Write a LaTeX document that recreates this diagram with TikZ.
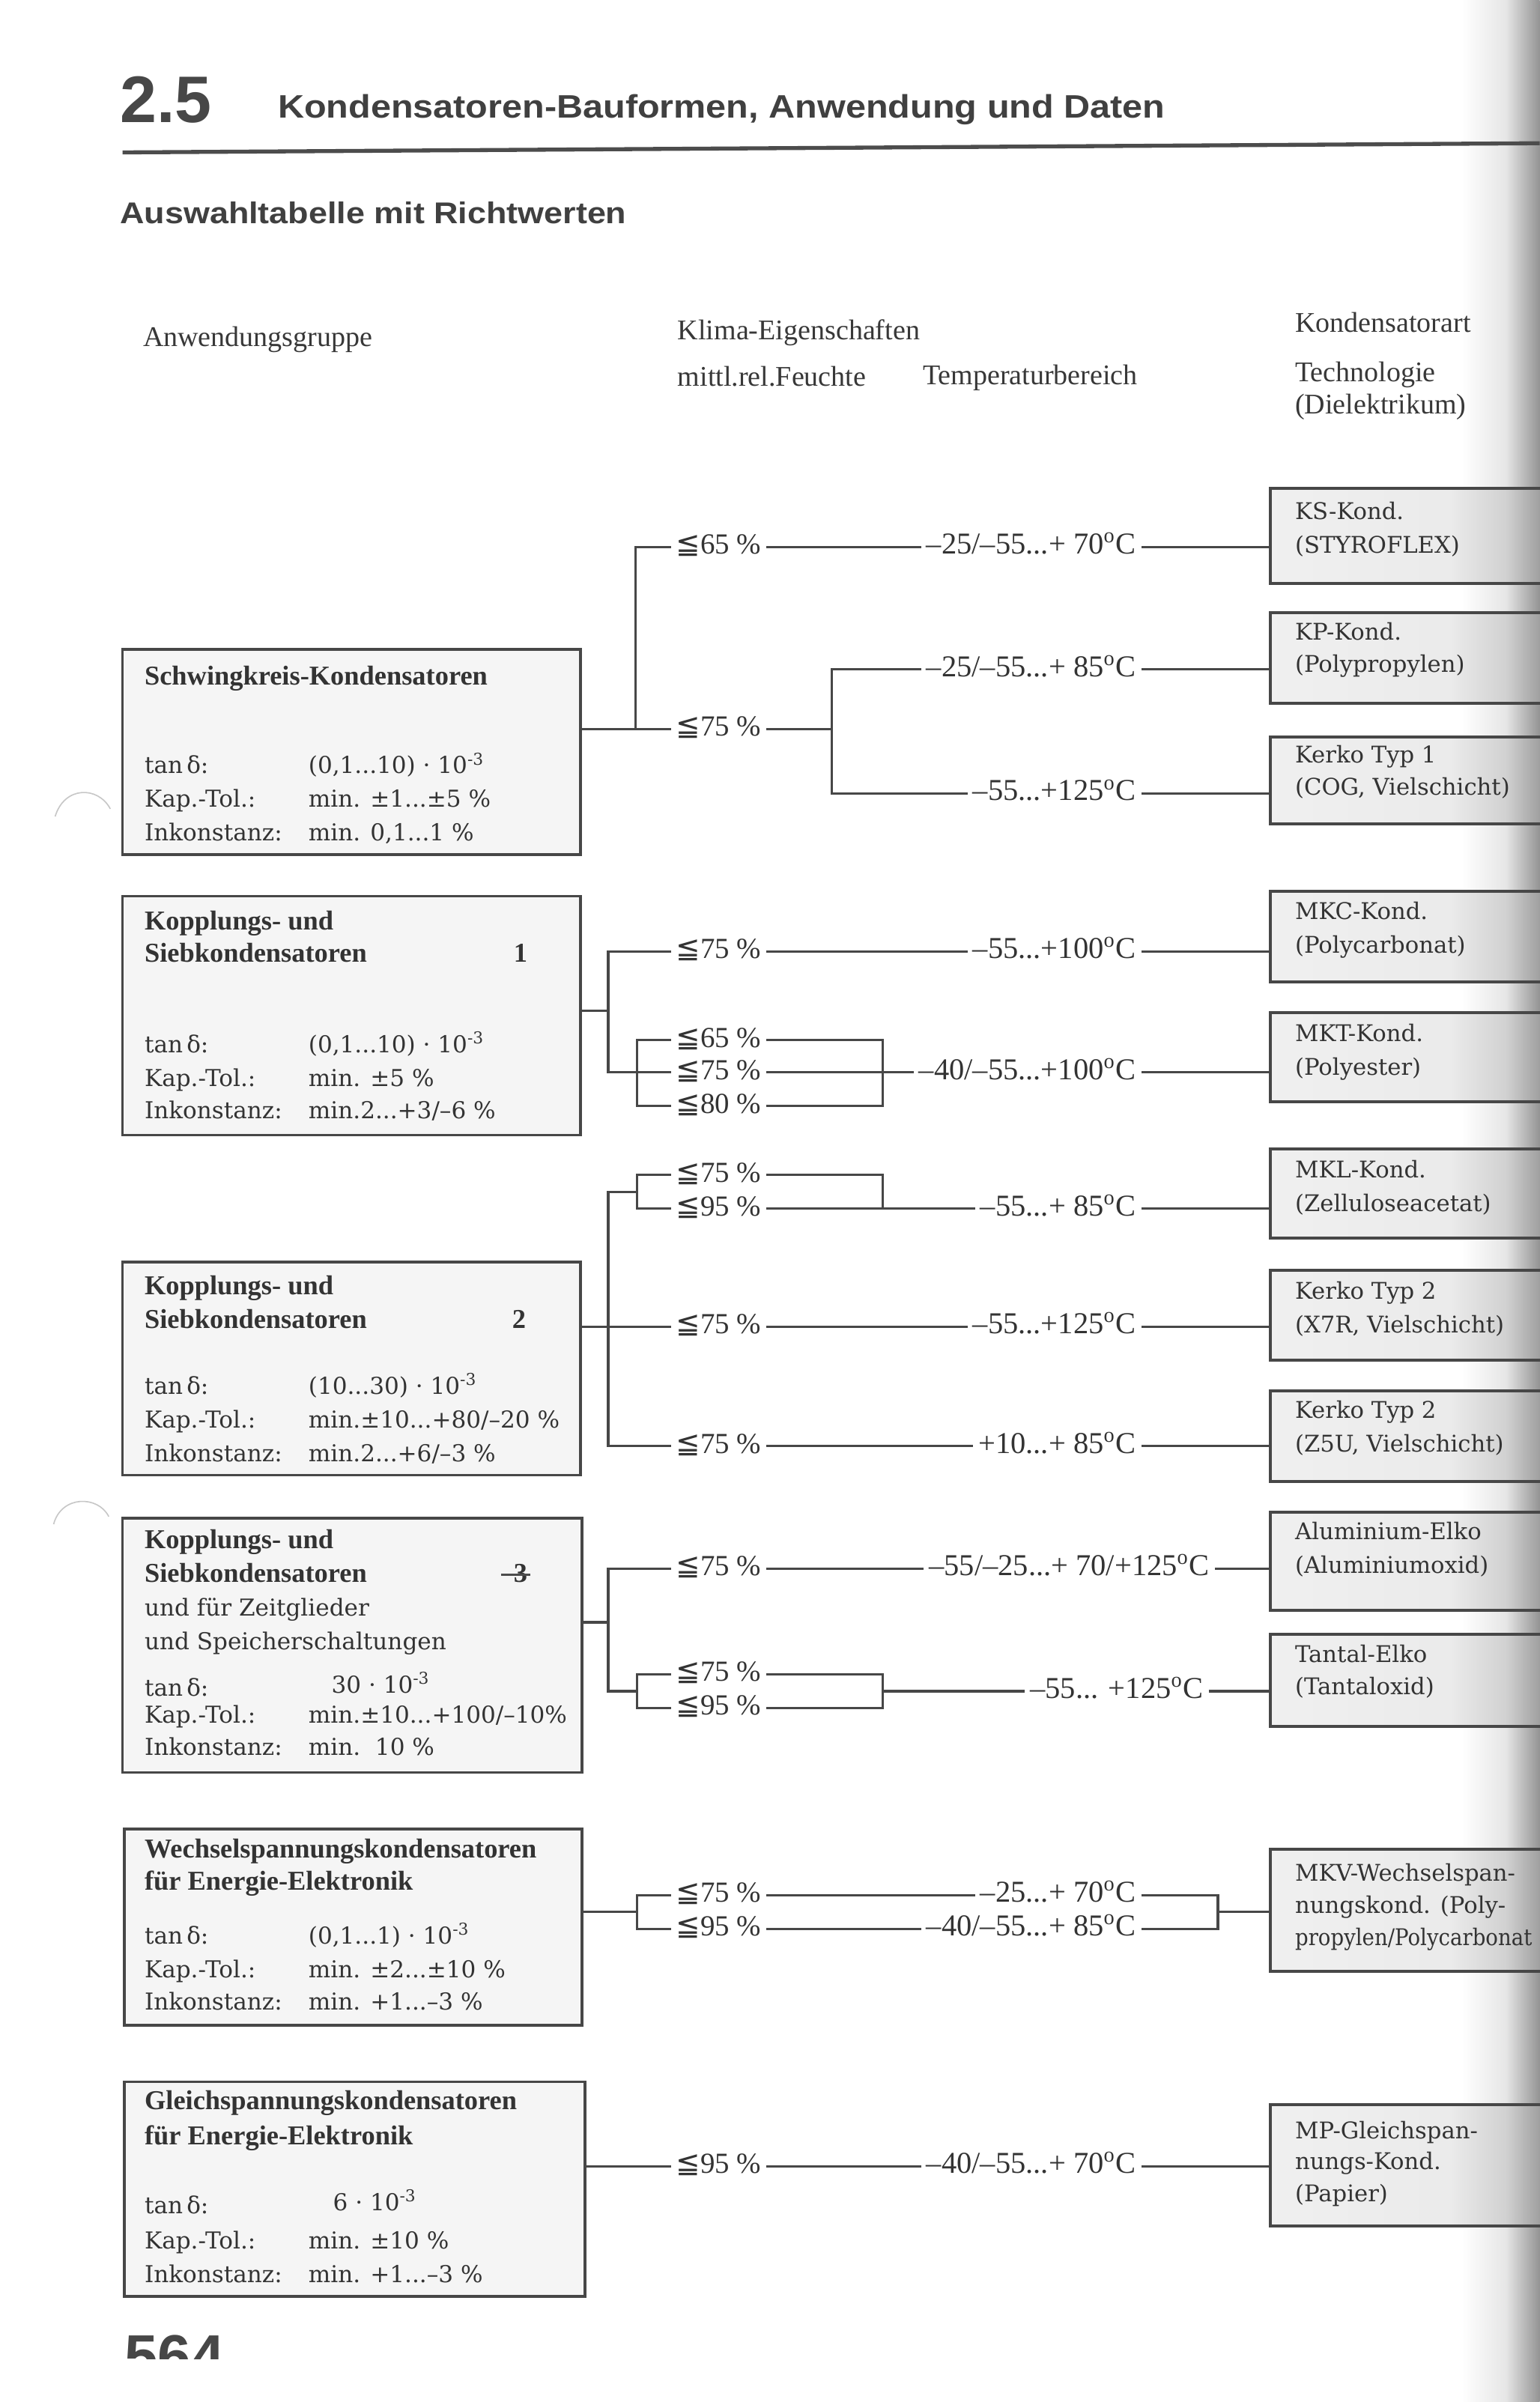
\documentclass[tikz,border=0pt]{standalone}
\usepackage{fontspec}
\setmainfont{Liberation Serif}
\newfontfamily\dvs{DejaVu Serif}
\newfontfamily\dvsans{DejaVu Sans}
\newfontfamily\hsans[FakeStretch=1.12]{Liberation Sans}
\newfontfamily\hsn{Liberation Sans}
\usetikzlibrary{fit}
\pgfdeclarehorizontalshading{edgeshade}{100bp}{color(0bp)=(white); color(25bp)=(white); color(45bp)=(white); color(62bp)=(black!10); color(75bp)=(black!42); color(100bp)=(black!42)}
\pgfdeclarehorizontalshading{rboxshade}{100bp}{color(0bp)=(black!6); color(25bp)=(black!6); color(58bp)=(black!8); color(68bp)=(black!18); color(75bp)=(black!40); color(100bp)=(black!40)}
\newcommand\myleq{{\dvsans ≦}}
\newcommand\dg{\textsuperscript{o}C}
\tikzset{
  lbox/.style={draw=black!72, line width=0.9pt, fill=black!4, inner sep=0pt},
  rbox/.style={draw=black!72, line width=1pt, shade, shading=rboxshade, inner sep=0pt},
  conn/.style={draw=black!72, line width=0.75pt},
  ltitle/.style={anchor=base west, inner sep=0pt, text=black!80, font=\fontsize{8.9}{10}\selectfont\bfseries},
  lbody/.style={anchor=base west, inner sep=0pt, text=black!80, font=\dvs\fontsize{7.6}{9}\selectfont},
  rtext/.style={anchor=base west, inner sep=0pt, text=black!80, font=\dvs\fontsize{7.5}{9}\selectfont},
  hum/.style={anchor=west, inner sep=1.5pt, text height=7pt, text depth=2.4pt, text=black!80, font=\fontsize{9.5}{11}\selectfont},
  temp/.style={anchor=east, inner sep=1.5pt, text height=7pt, text depth=2.4pt, text=black!80, font=\fontsize{9.9}{11}\selectfont},
  colhead/.style={anchor=base west, inner sep=0pt, text=black!78, font=\fontsize{9.3}{11}\selectfont},
}
\begin{document}
\begin{tikzpicture}[x=0.5pt,y=-0.5pt]
\useasboundingbox (0,0) rectangle (1005,1568);
\fill[white] (0,0) rectangle (1005,1568);
\shade[shading=edgeshade] (920,0) rectangle (1005,1568);

% header
\node[anchor=base west, inner sep=0pt, text=black!72, font=\hsn\bfseries\fontsize{21.5}{24}\selectfont] (h25) at (78,80) {2.5};
\node[anchor=base west, inner sep=0pt, text=black!75, font=\hsans\bfseries\fontsize{10.6}{12}\selectfont] (h1) at (181,77) {Kondensatoren-Bauformen, Anwendung und Daten};
\draw[black!70, line width=1.3pt] (80,99.5) -- (1005,93.5);
\node[anchor=base west, inner sep=0pt, text=black!75, font=\hsans\bfseries\fontsize{9.8}{12}\selectfont] (h2) at (78,146) {Auswahltabelle mit Richtwerten};

% column heads
\node[colhead] (c1) at (93,226) {Anwendungsgruppe};
\node[colhead] (c2) at (442,221.5) {Klima-Eigenschaften};
\node[colhead] (c3) at (442,252) {mittl.rel.Feuchte};
\node[colhead] (c4) at (602,251) {Temperaturbereich};
\node[colhead] (c5) at (845,217) {Kondensatorart};
\node[colhead] (c6) at (845,249) {Technologie};
\node[colhead] (c7) at (845,270) {(Dielektrikum)};

% hole punch marks
\draw[black!22, line width=0.4pt] (36,533) .. controls (42,513) and (64,513) .. (72,528);
\draw[black!22, line width=0.4pt] (35,995) .. controls (40,976) and (64,976) .. (71,990);

% right boxes
\node[rbox, fit={(829,319) (1008,381)}] (r1) {};
\node[rbox, fit={(829,400) (1008,459)}] (r2) {};
\node[rbox, fit={(829,481) (1008,538)}] (r3) {};
\node[rbox, fit={(829,582) (1008,641)}] (r4) {};
\node[rbox, fit={(829,661) (1008,719)}] (r5) {};
\node[rbox, fit={(829,750) (1008,808)}] (r6) {};
\node[rbox, fit={(829,829) (1008,888)}] (r7) {};
\node[rbox, fit={(829,908) (1008,967)}] (r8) {};
\node[rbox, fit={(829,987) (1008,1051)}] (r9) {};
\node[rbox, fit={(829,1067) (1008,1127)}] (r10) {};
\node[rbox, fit={(829,1207) (1008,1287)}] (r11) {};
\node[rbox, fit={(829,1374) (1008,1453)}] (r12) {};
\node[rtext] (r1a) at (845,339) {KS-Kond.};
\node[rtext] (r1b) at (845,361) {(STYROFLEX)};
\node[rtext] (r2a) at (845,418) {KP-Kond.};
\node[rtext] (r2b) at (845,439) {(Polypropylen)};
\node[rtext] (r3a) at (845,498) {Kerko Typ 1};
\node[rtext] (r3b) at (845,519) {(COG, Vielschicht)};
\node[rtext] (r4a) at (845,600) {MKC-Kond.};
\node[rtext] (r4b) at (845,622) {(Polycarbonat)};
\node[rtext] (r5a) at (845,680) {MKT-Kond.};
\node[rtext] (r5b) at (845,702) {(Polyester)};
\node[rtext] (r6a) at (845,769) {MKL-Kond.};
\node[rtext] (r6b) at (845,791) {(Zelluloseacetat)};
\node[rtext] (r7a) at (845,848) {Kerko Typ 2};
\node[rtext] (r7b) at (845,870) {(X7R, Vielschicht)};
\node[rtext] (r8a) at (845,926) {Kerko Typ 2};
\node[rtext] (r8b) at (845,948) {(Z5U, Vielschicht)};
\node[rtext] (r9a) at (845,1005) {Aluminium-Elko};
\node[rtext] (r9b) at (845,1027) {(Aluminiumoxid)};
\node[rtext] (r10a) at (845,1085) {Tantal-Elko};
\node[rtext] (r10b) at (845,1106) {(Tantaloxid)};
\node[rtext] (r11a) at (845,1228) {MKV-Wechselspan-};
\node[rtext] (r11b) at (845,1249) {nungskond. (Poly-};
\node[rtext] (r11c) at (845,1270) {\scalebox{0.9}[1]{propylen/Polycarbonat}};
\node[rtext] (r12a) at (845,1396) {MP-Gleichspan-};
\node[rtext] (r12b) at (845,1416) {nungs-Kond.};
\node[rtext] (r12c) at (845,1437) {(Papier)};

% left boxes
\node[lbox, fit={(80,424) (379,558)}] (A) {};
\node[ltitle] (a1) at (94,447) {Schwingkreis-Kondensatoren};
\node[lbody] (a2) at (94,505) {tan\,δ:};
\node[lbody] (a3) at (94,527) {Kap.-Tol.:};
\node[lbody] (a4) at (94,549) {Inkonstanz:};
\node[lbody] (a5) at (201,505) {(0,1...10) · 10\textsuperscript{-3}};
\node[lbody] (a6) at (201,527) {min. ±1...±5 \%};
\node[lbody] (a7) at (201,549) {min. 0,1...1 \%};

\node[lbox, fit={(80,585) (379,741)}] (B) {};
\node[ltitle] (b1) at (94,607) {Kopplungs- und};
\node[ltitle] (b2) at (94,628) {Siebkondensatoren};
\node[ltitle] (b3) at (335,628) {1};
\node[lbody] (b4) at (94,687) {tan\,δ:};
\node[lbody] (b5) at (94,709) {Kap.-Tol.:};
\node[lbody] (b6) at (94,730) {Inkonstanz:};
\node[lbody] (b7) at (201,687) {(0,1...10) · 10\textsuperscript{-3}};
\node[lbody] (b8) at (201,709) {min. ±5 \%};
\node[lbody] (b9) at (201,730) {min.2...+3/–6 \%};

\node[lbox, fit={(80,824) (379,963)}] (C) {};
\node[ltitle] (cc1) at (94,845) {Kopplungs- und};
\node[ltitle] (cc2) at (94,867) {Siebkondensatoren};
\node[ltitle] (cc3) at (334,867) {2};
\node[lbody] (cc4) at (94,910) {tan\,δ:};
\node[lbody] (cc5) at (94,932) {Kap.-Tol.:};
\node[lbody] (cc6) at (94,954) {Inkonstanz:};
\node[lbody] (cc7) at (201,910) {(10...30) · 10\textsuperscript{-3}};
\node[lbody] (cc8) at (201,932) {min.±10...+80/–20 \%};
\node[lbody] (cc9) at (201,954) {min.2...+6/–3 \%};

\node[lbox, fit={(80,991) (380,1157)}] (D) {};
\node[ltitle] (d1) at (94,1011) {Kopplungs- und};
\node[ltitle] (d2) at (94,1033) {Siebkondensatoren};
\node[ltitle] (d3) at (335,1033) {3};
\draw[black!70, line width=0.8pt] (327,1028) -- (346,1028);
\node[lbody] (d4) at (94,1055) {und für Zeitglieder};
\node[lbody] (d5) at (94,1077) {und Speicherschaltungen};
\node[lbody] (d6) at (94,1107) {tan\,δ:};
\node[lbody] (d7) at (94,1125) {Kap.-Tol.:};
\node[lbody] (d8) at (94,1146) {Inkonstanz:};
\node[lbody] (d9) at (216,1105) {30 · 10\textsuperscript{-3}};
\node[lbody] (d10) at (201,1125) {min.±10...+100/–10\%};
\node[lbody] (d11) at (201,1146) {min.\ \ 10 \%};

\node[lbox, fit={(81,1194) (380,1322)}] (E) {};
\node[ltitle] (e1) at (94,1213) {Wechselspannungskondensatoren};
\node[ltitle] (e2) at (94,1234) {für Energie-Elektronik};
\node[lbody] (e3) at (94,1269) {tan\,δ:};
\node[lbody] (e4) at (94,1291) {Kap.-Tol.:};
\node[lbody] (e5) at (94,1312) {Inkonstanz:};
\node[lbody] (e6) at (201,1269) {(0,1...1) · 10\textsuperscript{-3}};
\node[lbody] (e7) at (201,1291) {min. ±2...±10 \%};
\node[lbody] (e8) at (201,1312) {min. +1...–3 \%};

\node[lbox, fit={(81,1359) (382,1499)}] (F) {};
\node[ltitle] (f1) at (94,1377) {Gleichspannungskondensatoren};
\node[ltitle] (f2) at (94,1400) {für Energie-Elektronik};
\node[lbody] (f3) at (94,1445) {tan\,δ:};
\node[lbody] (f4) at (94,1468) {Kap.-Tol.:};
\node[lbody] (f5) at (94,1490) {Inkonstanz:};
\node[lbody] (f6) at (217,1443) {6 · 10\textsuperscript{-3}};
\node[lbody] (f7) at (201,1468) {min. ±10 \%};
\node[lbody] (f8) at (201,1490) {min. +1...–3 \%};

% page number (cut off)
\begin{scope}
\clip (0,0) rectangle (1005,1540);
\node[anchor=north west, inner sep=0pt, text=black!72, font=\hsn\bfseries\fontsize{19.5}{22}\selectfont] (pg) at (81,1524) {564};
\end{scope}

% ---------- group A
\node[hum] (p1) at (438,357) {\myleq65 \%};
\node[temp] (t1) at (745,357) {–25/–55...+ 70\dg};
\node[hum] (p2) at (438,476) {\myleq75 \%};
\node[temp] (t2) at (745,437) {–25/–55...+ 85\dg};
\node[temp] (t3) at (745,518) {–55...+125\dg};
\draw[conn] (p2.west -| A.east) -- (p2.west);
\draw[conn] (p1.west) -| (415,476);
\draw[conn] (p1.east) -- (t1.west);
\draw[conn] (p2.east) -- (543,476);
\draw[conn] (t2.west) -| (543,518) -- (t3.west);
\draw[conn] (t1.east) -- (t1.east -| r1.west);
\draw[conn] (t2.east) -- (t2.east -| r2.west);
\draw[conn] (t3.east) -- (t3.east -| r3.west);

% ---------- group B
\coordinate (bj) at (397,660);
\node[hum] (p3) at (438,621) {\myleq75 \%};
\node[temp] (t4) at (745,621) {–55...+100\dg};
\node[hum] (p4) at (438,679) {\myleq65 \%};
\node[hum] (p5) at (438,700) {\myleq75 \%};
\node[hum] (p6) at (438,722) {\myleq80 \%};
\node[temp] (t5) at (745,700) {–40/–55...+100\dg};
\draw[conn] (bj -| B.east) -- (bj);
\draw[conn] (p3.west) -| (397,700) -- (p5.west);
\draw[conn] (p4.west) -| (416,722) -- (p6.west);
\draw[conn] (p4.east) -| (576,722) -- (p6.east);
\draw[conn] (p5.east) -- (t5.west);
\draw[conn] (p3.east) -- (t4.west);
\draw[conn] (t4.east) -- (t4.east -| r4.west);
\draw[conn] (t5.east) -- (t5.east -| r5.west);

% ---------- group C
\node[hum] (p7) at (438,767) {\myleq75 \%};
\node[hum] (p8) at (438,789) {\myleq95 \%};
\node[temp] (t6) at (745,789) {–55...+ 85\dg};
\node[hum] (p9) at (438,866) {\myleq75 \%};
\node[temp] (t7) at (745,866) {–55...+125\dg};
\node[hum] (p10) at (438,944) {\myleq75 \%};
\node[temp] (t8) at (745,944) {+10...+ 85\dg};
\draw[conn] (p9.west -| C.east) -- (p9.west);
\draw[conn] (416,778) -- (397,778) |- (p10.west);
\draw[conn] (p7.west) -| (416,789) -- (p8.west);
\draw[conn] (p7.east) -| (576,789);
\draw[conn] (p8.east) -- (t6.west);
\draw[conn] (p9.east) -- (t7.west);
\draw[conn] (p10.east) -- (t8.west);
\draw[conn] (t6.east) -- (t6.east -| r6.west);
\draw[conn] (t7.east) -- (t7.east -| r7.west);
\draw[conn] (t8.east) -- (t8.east -| r8.west);

% ---------- group D
\coordinate (dj) at (397,1059);
\node[hum] (p11) at (438,1024) {\myleq75 \%};
\node[temp] (t9) at (793,1024) {–55/–25...+ 70/+125\dg};
\node[hum] (p12) at (438,1093) {\myleq75 \%};
\node[hum] (p13) at (438,1115) {\myleq95 \%};
\node[temp] (t10) at (789,1104) {–55... +125\dg};
\draw[conn] (dj -| D.east) -- (dj);
\draw[conn] (p11.west) -| (397,1104) -- (416,1104);
\draw[conn] (p12.west) -| (416,1115) -- (p13.west);
\draw[conn] (p12.east) -| (576,1115) -- (p13.east);
\draw[conn] (576,1104) -- (t10.west);
\draw[conn] (p11.east) -- (t9.west);
\draw[conn] (t9.east) -- (t9.east -| r9.west);
\draw[conn] (t10.east) -- (t10.east -| r10.west);

% ---------- group E
\coordinate (ej) at (416,1248);
\coordinate (ek) at (795,1248);
\node[hum] (p14) at (438,1237) {\myleq75 \%};
\node[hum] (p15) at (438,1259) {\myleq95 \%};
\node[temp] (t11) at (745,1237) {–25...+ 70\dg};
\node[temp] (t12) at (745,1259) {–40/–55...+ 85\dg};
\draw[conn] (ej -| E.east) -- (ej);
\draw[conn] (p14.west) -| (416,1259) -- (p15.west);
\draw[conn] (p14.east) -- (t11.west);
\draw[conn] (p15.east) -- (t12.west);
\draw[conn] (t11.east) -| (795,1259) -- (t12.east);
\draw[conn] (ek) -- (ek -| r11.west);

% ---------- group F
\node[hum] (p16) at (438,1414) {\myleq95 \%};
\node[temp] (t13) at (745,1414) {–40/–55...+ 70\dg};
\draw[conn] (p16.west -| F.east) -- (p16.west);
\draw[conn] (p16.east) -- (t13.west);
\draw[conn] (t13.east) -- (t13.east -| r12.west);
\end{tikzpicture}
\end{document}
